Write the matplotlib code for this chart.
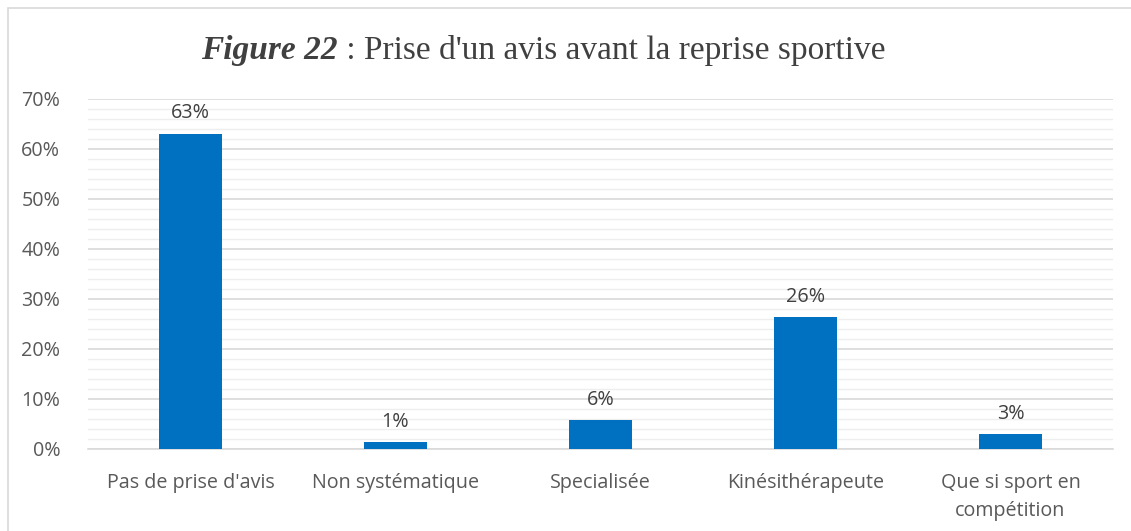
import matplotlib
matplotlib.use("Agg")
import matplotlib.pyplot as plt
from matplotlib.patches import Rectangle
from matplotlib.ticker import MultipleLocator, PercentFormatter

categories = ["Pas de prise d'avis", "Non systématique", "Specialisée",
              "Kinésithérapeute", "Que si sport en\ncompétition"]
values = [63.1, 1.4, 5.8, 26.4, 3.0]
labels = ["63%", "1%", "6%", "26%", "3%"]

W, H = 1131, 531
fig = plt.figure(figsize=(W / 100, H / 100), dpi=100)
ax = fig.add_axes([88 / W, 1 - 449 / H, 1025 / W, 350 / H])

# outer chart border
fig.patches.append(Rectangle((8 / W, -0.01), 1.2, 1 - 8 / H + 0.01,
                             transform=fig.transFigure, fill=False,
                             edgecolor="#d9d9d9", linewidth=1.2))

FS = 14.2
x = range(len(categories))
ax.bar(x, values, width=0.31, color="#0070C0", zorder=3)
for xi, v, lab in zip(x, values, labels):
    ax.text(xi, v + 2.0, lab, ha="center", va="bottom", fontsize=FS,
            color="#404040", family="Open Sans")

ax.set_xlim(-0.5, 4.5)
ax.set_ylim(0, 70)
ax.yaxis.set_major_locator(MultipleLocator(10))
ax.yaxis.set_minor_locator(MultipleLocator(2))
ax.yaxis.set_major_formatter(PercentFormatter(decimals=0))
ax.grid(axis="y", which="major", color="#d9d9d9", linewidth=1.2, zorder=0)
ax.grid(axis="y", which="minor", color="#eeeeee", linewidth=1.0, zorder=0)
ax.set_xticks(list(x))
ax.set_xticklabels(categories, fontsize=FS, color="#595959", family="Open Sans",
                   linespacing=1.55)
for lab in ax.get_yticklabels():
    lab.set_fontsize(FS)
    lab.set_color("#595959")
    lab.set_family("Open Sans")
ax.tick_params(axis="both", which="both", length=0)
ax.tick_params(axis="y", pad=20)
ax.tick_params(axis="x", pad=17)
for s in ["top", "right", "left"]:
    ax.spines[s].set_visible(False)
ax.spines["bottom"].set_color("#d9d9d9")
ax.spines["bottom"].set_linewidth(1.2)

# title in two styles
fig.canvas.draw()
r = fig.canvas.get_renderer()
t1 = fig.text(0, 1 - 50 / H, "Figure 22", family="Liberation Serif", style="italic",
              weight="bold", fontsize=24, color="#404040", va="center")
t2 = fig.text(0, 1 - 50 / H, " : Prise d'un avis avant la reprise sportive",
              family="Liberation Serif", fontsize=24, color="#404040", va="center")
w1 = t1.get_window_extent(r).width
w2 = t2.get_window_extent(r).width
x0 = (543 - (w1 + w2) / 2)
t1.set_x(x0 / W)
t2.set_x((x0 + w1) / W)

fig.savefig("out.png", dpi=100)
